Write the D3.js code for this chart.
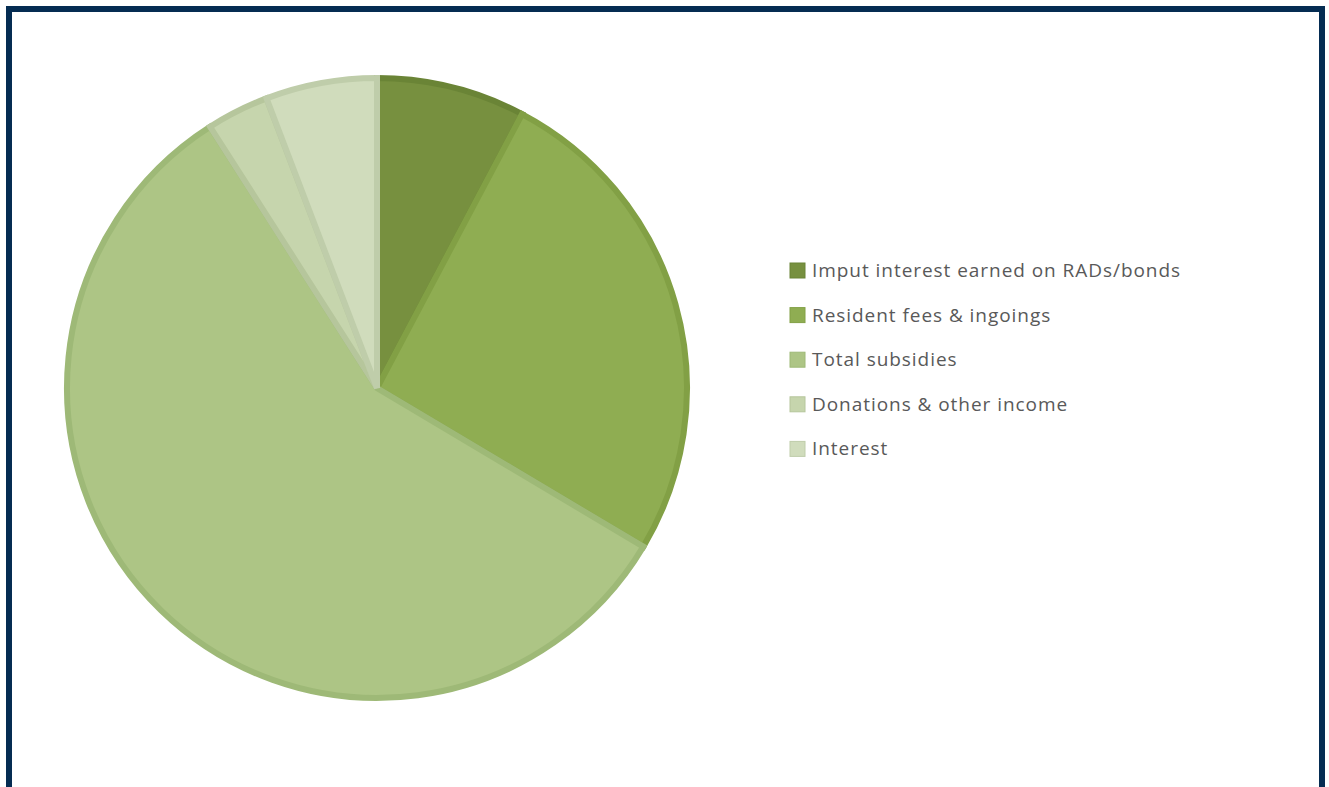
<!DOCTYPE html>
<html>
<head>
<style>
body { margin: 0; background: #fff; }
svg { display: block; }
</style>
</head>
<body>
<svg id="chart"></svg>
<script src="https://cdnjs.cloudflare.com/ajax/libs/d3/7.8.5/d3.min.js"></script>
<script>
var categories = ['Imput interest earned on RADs/bonds', 'Resident fees & ingoings', 'Total subsidies', 'Donations & other income', 'Interest'];
var values = [7.75, 25.8, 57.4, 3.25, 5.8];
var fills = ['#77903f', '#8fad52', '#adc585', '#c6d5ad', '#d0dcbc'];
var edges = ['#6a8436', '#82a045', '#9eb977', '#b6c69c', '#bfcdaa'];

var width = 1329, height = 787;
var svg = d3.select('#chart').attr('width', width).attr('height', height);

// frame
svg.append('rect')
  .attr('x', 9).attr('y', 9)
  .attr('width', 1313).attr('height', 800)
  .attr('fill', 'none')
  .attr('stroke', '#052c52')
  .attr('stroke-width', 6);

var cx = 377, cy = 388, r = 310;

var pie = d3.pie().sort(null).value(function(d) { return d; });
var arc = d3.arc().innerRadius(0).outerRadius(r);

var g = svg.append('g').attr('transform', 'translate(' + cx + ',' + cy + ')');
g.selectAll('path')
  .data(pie(values))
  .enter()
  .append('path')
  .attr('d', arc)
  .attr('fill', function(d, i) { return fills[i]; })
  .attr('stroke', function(d, i) { return edges[i]; })
  .attr('stroke-width', 6)
  .attr('stroke-linejoin', 'miter');

var legend = svg.append('g');
var rows = legend.selectAll('g')
  .data(categories)
  .enter()
  .append('g')
  .attr('transform', function(d, i) { return 'translate(790,' + (270 + i * 44.6) + ')'; });

rows.append('rect')
  .attr('x', 0).attr('y', -7)
  .attr('width', 15).attr('height', 15)
  .attr('fill', function(d, i) { return fills[i]; })
  .attr('stroke', function(d, i) { return edges[i]; })
  .attr('stroke-width', 1);

rows.append('text')
  .attr('x', 22).attr('y', 7)
  .attr('font-family', 'Open Sans, sans-serif')
  .attr('font-size', 19)
  .attr('letter-spacing', 0.95)
  .attr('fill', '#595959')
  .text(function(d) { return d; });
</script>
</body>
</html>
